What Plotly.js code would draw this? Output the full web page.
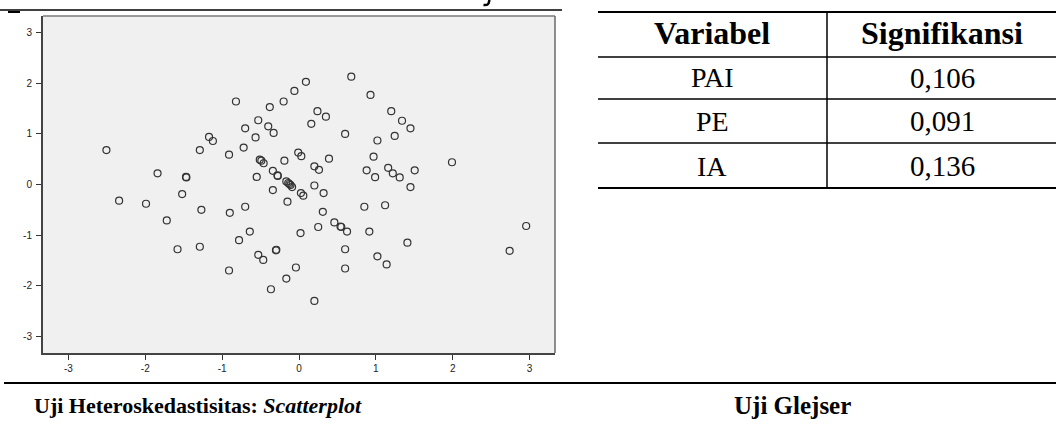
<!DOCTYPE html>
<html><head><meta charset="utf-8">
<script src="https://cdn.plot.ly/plotly-3.0.1.min.js"></script>
<style>html,body{margin:0;padding:0;background:#fff}#chart{width:1056px;height:426px}</style>
</head><body><div id="chart"></div>
<script>
// Scatterplot of standardized residuals (x: standardized predicted, y: studentized residual)
const residX = [-2.505,-1.29,-1.84,-1.47,-1.465,-1.52,-2.34,-1.99,-1.27,-1.72,-1.58,-1.29,
  -0.06,-0.82,-0.20,-0.38,-0.53,-0.70,-0.40,-0.33,-0.565,-1.17,-1.12,-0.72,-0.91,-0.01,
  -0.51,-0.49,-0.46,-0.19,-0.34,-0.28,-0.275,-0.55,-0.165,-0.14,-0.11,-0.09,-0.125,-0.34,
  -0.15,-0.90,-0.70,-0.64,-0.78,0.02,-0.53,-0.465,-0.30,-0.295,-0.91,-0.04,-0.165,-0.365,
  0.68,0.09,0.93,1.20,0.24,0.35,0.16,0.60,1.02,1.245,0.03,0.39,0.97,0.20,0.26,0.88,0.99,
  1.16,1.22,0.025,0.056,0.20,0.32,0.31,0.85,1.12,0.46,0.54,0.55,0.625,0.25,0.915,0.60,
  1.02,1.14,0.60,0.20,1.34,1.45,1.99,1.31,1.505,1.45,1.41,2.955,2.74];
const residY = [0.68,0.68,0.22,0.15,0.14,-0.19,-0.32,-0.38,-0.50,-0.71,-1.28,-1.23,
  1.85,1.64,1.64,1.53,1.27,1.11,1.15,1.02,0.93,0.94,0.86,0.73,0.59,0.63,
  0.49,0.47,0.42,0.47,0.27,0.18,0.17,0.15,0.06,0.03,-0.01,-0.05,0.01,-0.11,
  -0.34,-0.56,-0.44,-0.93,-1.10,-0.96,-1.39,-1.49,-1.30,-1.29,-1.70,-1.64,-1.86,-2.07,
  2.13,2.03,1.77,1.45,1.45,1.34,1.20,1.00,0.87,0.96,0.56,0.51,0.55,0.36,0.29,0.28,0.145,
  0.33,0.22,-0.17,-0.22,-0.02,-0.17,-0.54,-0.44,-0.41,-0.75,-0.83,-0.84,-0.93,-0.84,-0.93,-1.28,
  -1.42,-1.58,-1.66,-2.30,1.26,1.11,0.44,0.14,0.28,-0.05,-1.15,-0.82,-1.31];
const tickVals = [-3,-2,-1,0,1,2,3];
const tickText = ['-3','-2','-1','0','1','2','3'];

// Glejser test table
const tableHeader = ['Variabel','Signifikansi'];
const tableVariables = ['PAI','PE','IA'];
const tableSignificance = ['0,106','0,091','0,136'];

const captionScatter = 'Uji Heteroskedastisitas: <i>Scatterplot</i>';
const captionTable = 'Uji Glejser';

const W = 1056, H = 426;
const px = v => v / W;
const py = v => 1 - v / H;

const serif = 'Liberation Serif, Times New Roman, serif';
const narrow = 'Liberation Sans Narrow, Arial Narrow, Liberation Sans, Arial, sans-serif';

const shapes = [];
const hline = (x0, x1, y, w, c) => shapes.push({type:'line', xref:'paper', yref:'paper',
  x0:px(x0), x1:px(x1), y0:py(y), y1:py(y), line:{color:c||'#000', width:w}});
const vline = (x, y0, y1, w, c) => shapes.push({type:'line', xref:'paper', yref:'paper',
  x0:px(x), x1:px(x), y0:py(y0), y1:py(y1), line:{color:c||'#000', width:w}});

// plot frame: light top/right, dark left/bottom
hline(43, 555, 16, 1.5, '#7a7a7a');
vline(555, 16, 353, 1.5, '#6a6a6a');
// page rules
hline(0, 562, 10, 1.5);
hline(8, 20, 12, 2);
hline(4, 1056, 383, 2);
// descender fragment of a cut-off heading above the page
shapes.push({type:'path', xref:'paper', yref:'paper',
  path:`M ${px(489.5)} ${py(0)} L ${px(488.5)} ${py(3.5)} Q ${px(487.5)} ${py(5.5)} ${px(483.5)} ${py(5)}`,
  line:{color:'#000', width:2.5}});
// table rules
const rowLines = [12, 57, 99, 143, 188];
rowLines.forEach((y, i) => hline(598, 1056, y, (i === 0 || i === rowLines.length - 1) ? 2 : 1.5));
vline(827, 12, 188, 1.5);

const annotations = [];
const colCenters = [712, 942];
const rowCenters = [33, 78, 121, 166];
const ann = (x, y, text, size, bold) => annotations.push({xref:'paper', yref:'paper', x:px(x), y:py(y),
  text: bold ? '<b>' + text + '</b>' : text, showarrow:false, xanchor:'center', yanchor:'middle',
  font:{family:serif, size:size, color:'#000'}});
tableHeader.forEach((t, i) => ann(colCenters[i], rowCenters[0], t, 32, true));
tableVariables.forEach((t, i) => ann(colCenters[0], rowCenters[i + 1], t, 28, false));
tableSignificance.forEach((t, i) => ann(colCenters[1], rowCenters[i + 1], t, 29, false));
ann(198, 405, captionScatter, 22, true);
ann(792, 405, captionTable, 25, true);

const trace = {
  type:'scatter', mode:'markers', x:residX, y:residY, cliponaxis:false,
  marker:{symbol:'circle-open', size:7, color:'#333', line:{color:'#333', width:1.2}},
  hoverinfo:'x+y'
};

const axisCommon = {
  range:[-3.33, 3.33], tickvals:tickVals, ticktext:tickText, ticks:'outside', ticklen:5,
  tickwidth:1, tickcolor:'#333', showline:true, linecolor:'#444', linewidth:2,
  showgrid:false, zeroline:false, automargin:false,
  tickfont:{family:narrow, size:10, color:'#222'}, fixedrange:true
};

const layout = {
  width:W, height:H, margin:{l:0, r:0, t:0, b:0},
  paper_bgcolor:'#fff', plot_bgcolor:'#f0f0f0', showlegend:false,
  xaxis:Object.assign({}, axisCommon, {domain:[px(43), px(555)], anchor:'y'}),
  yaxis:Object.assign({}, axisCommon, {domain:[py(353), py(16)], anchor:'x', ticklabelstandoff:2}),
  shapes:shapes, annotations:annotations
};

Plotly.newPlot('chart', [trace], layout, {displayModeBar:false, staticPlot:true});
</script>
</body></html>
